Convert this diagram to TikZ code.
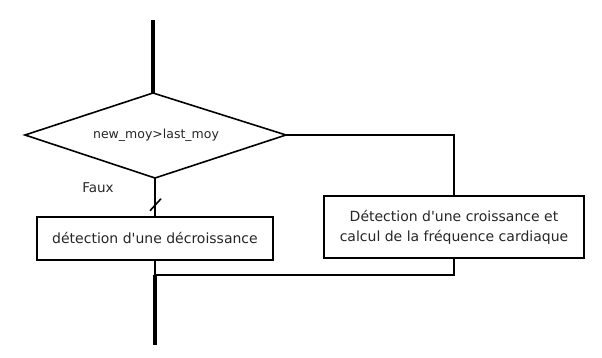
\documentclass[tikz,border=0pt]{standalone}
\usepackage{fontspec}
\setmainfont{DejaVu Sans}[Ligatures=TeXOff]
\begin{document}
\begin{tikzpicture}[x=1pt,y=-1pt,
  thinline/.style={line width=1.6pt},
  thickline/.style={line width=3.6pt},
  txt/.style={text=black!85},
  box/.style={draw, thinline, inner sep=0pt, align=center, txt,
    font=\fontsize{14}{20}\selectfont}]
\useasboundingbox (0,0) rectangle (602,358);
% diamond corners
\coordinate (dT) at (153,93);
\coordinate (dR) at (286,135);
\coordinate (dB) at (155,178);
\coordinate (dL) at (25,135);
\draw[thinline, line join=miter] (dT) -- (dR) -- (dB) -- (dL) -- cycle;
\node[txt, font=\fontsize{12.5}{15}\selectfont] (cond) at (156,135) {new\_moy>last\_moy};
\node[txt, font=\fontsize{13.5}{16}\selectfont] (faux) at (98,188) {Faux};
% boxes
\node[box, minimum width=236pt, minimum height=43pt] (dec) at (155,238.5) {détection d'une décroissance};
\node[box, minimum width=260pt, minimum height=62pt] (cro) at (454,227) {Détection d'une croissance et\\calcul de la fréquence cardiaque};
% connectors
\coordinate (start) at (153,20);
\coordinate (join) at (155,275);
\coordinate (end) at (155,345);
\draw[thickline] (start) -- (dT);
\draw[thinline] (dR) -| (cro.north);
\draw[thinline] (dB) -- (dec.north);
\path (dB) -- (dec.north) coordinate[pos=0.7] (tick);
\draw[thinline] (tick) ++(-5,6) -- ++(11,-12);
\draw[thinline] (dec.south) -- (join);
\draw[thinline] (cro.south) |- (join);
\draw[thickline] (join) -- (end);
\end{tikzpicture}
\end{document}
